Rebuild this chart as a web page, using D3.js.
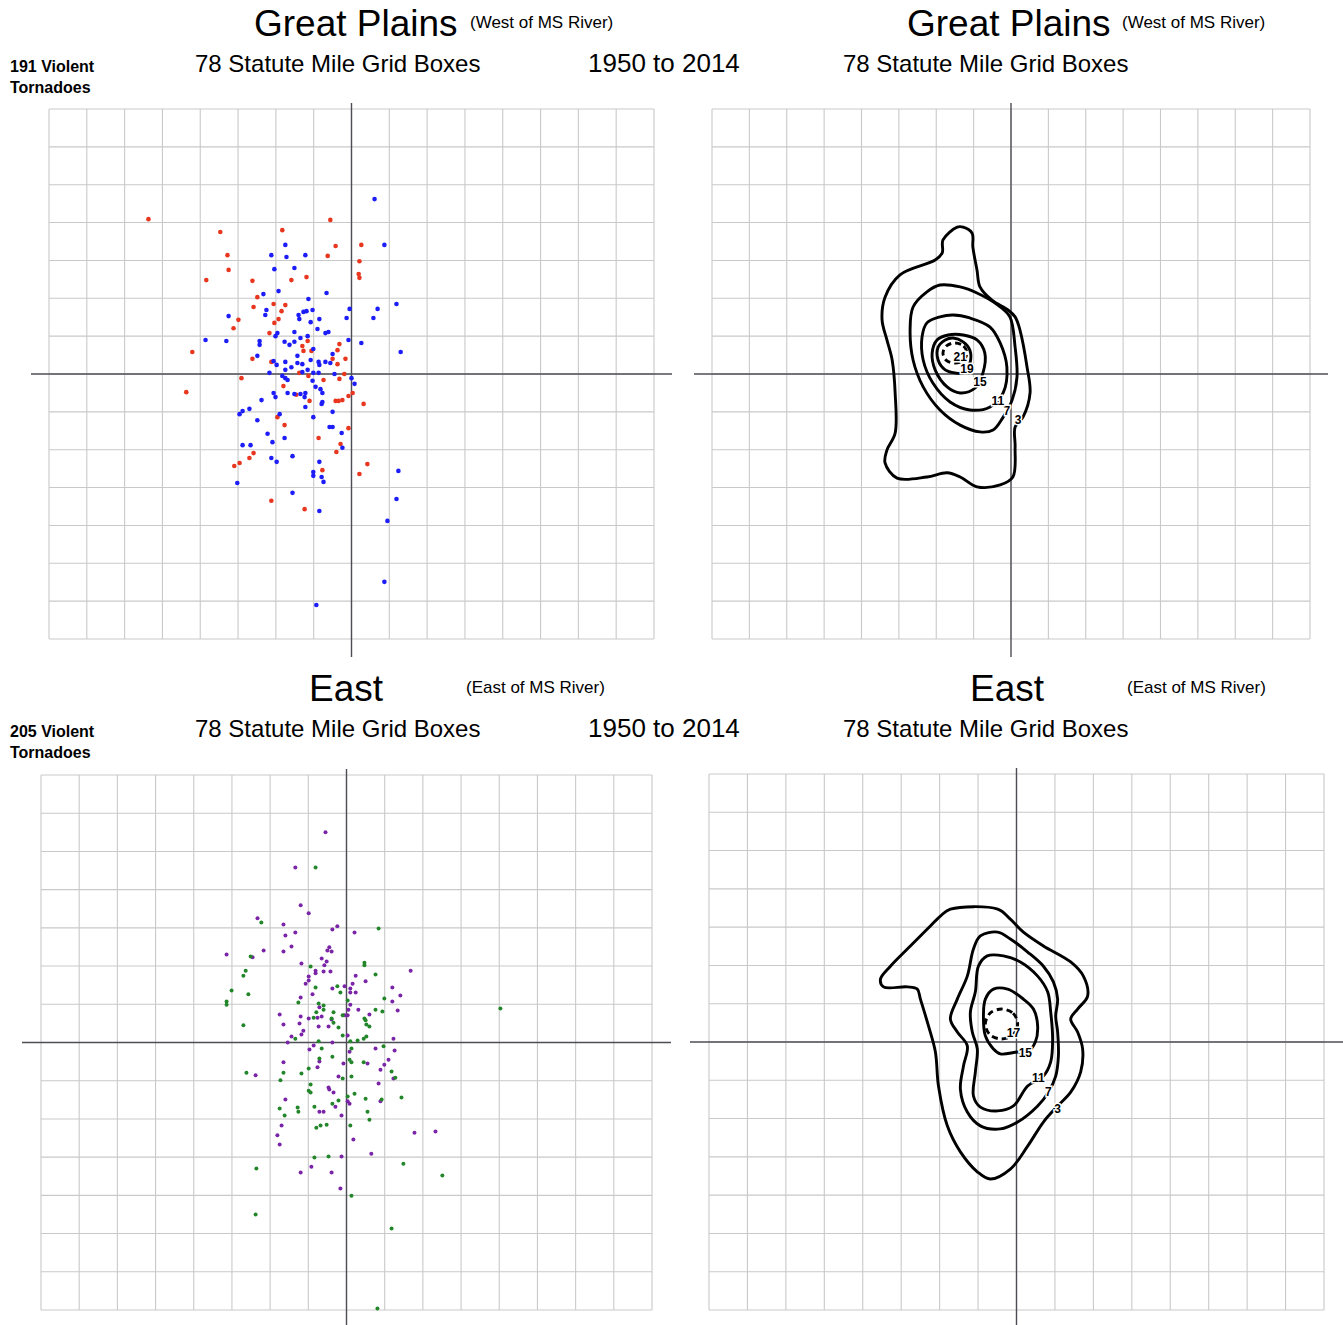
<!DOCTYPE html>
<html>
<head>
<meta charset="utf-8">
<script src="https://cdn.jsdelivr.net/npm/d3@7"></script>
<style>
  body { margin: 0; background: #fff; }
  text { font-family: "Liberation Sans", Arial, sans-serif; fill: #000; }
</style>
</head>
<body>
<div id="chart"></div>
<script>
// all positions are in grid boxes (78 statute miles), origin = tornado centre
const xBoxes = d3.range(-8, 9);
const yBoxes = d3.range(-7, 8);

// Great Plains points (red / blue)
const redPts = [[-5.37,4.09],[-3.47,3.75],[-3.28,3.14],[-3.25,2.75],[-3.84,2.48],[-2.62,2.46],[-2.49,2.03],[-2.59,1.77],
  [-2.06,1.85],[-2.99,1.43],[-1.93,1.45],[-0.56,4.07],[-1.83,3.80],[-0.42,3.38],[0.26,3.41],[-0.63,3.12],[0.21,2.98],
  [-1.59,2.48],[-1.19,2.56],[0.19,2.64],[0.21,2.54],[-1.75,1.82],[-1.85,1.66],[-3.12,1.21],[-2.04,1.35],[-2.17,1.08],
  [-4.21,0.58],[-2.62,0.40],[-2.12,0.32],[-1.38,0.03],[-2.91,-0.11],[-1.80,-0.32],[-4.37,-0.48],[-1.46,-0.55],
  [-1.96,-1.14],[-1.77,-1.35],[-1.16,0.87],[-1.30,0.74],[-1.27,0.61],[-1.06,0.61],[-0.32,0.79],[-0.37,0.63],
  [-0.50,0.40],[-0.16,0.40],[-0.37,0.26],[-1.14,-0.05],[-0.19,0.00],[-0.32,-0.13],[-0.74,-0.16],[0.03,-0.50],
  [-0.08,-0.58],[-1.11,-0.71],[-0.42,-0.71],[-0.34,-0.71],[-0.24,-0.69],[0.32,-0.79],[-0.08,-1.43],[-0.87,-1.69],
  [-0.29,-1.85],[-0.40,-2.06],[-2.59,-2.09],[-2.70,-2.22],[-2.96,-2.35],[-3.10,-2.43],[0.42,-2.38],[0.21,-2.64],
  [-0.77,-2.54],[-2.12,-3.35],[-1.24,-3.57]];
const bluePts = [[-2.12,3.14],[-2.04,2.77],[-1.93,2.19],[-2.33,2.11],[-2.25,1.69],[-2.28,1.56],[-3.25,1.53],[0.61,4.62],
  [-1.75,3.41],[0.87,3.41],[-1.72,3.09],[-1.22,3.14],[-1.51,2.80],[-0.66,2.14],[-1.14,1.98],[-1.27,1.64],[-1.19,1.66],
  [-1.03,1.69],[-1.40,1.56],[-0.05,1.72],[0.69,1.72],[1.19,1.85],[-1.38,1.45],[-0.85,1.45],[-0.13,1.48],[0.58,1.48],
  [-1.96,1.08],[-2.01,1.00],[-3.86,0.90],[-3.31,0.87],[-2.43,0.87],[-2.43,0.77],[-1.77,0.85],[-1.64,0.77],[-1.51,0.85],
  [-2.49,0.48],[-2.06,0.34],[-1.98,0.24],[-1.75,0.32],[-1.43,0.48],[-1.43,0.29],[-1.59,0.18],[-1.75,0.11],[-2.17,0.03],
  [-1.83,-0.05],[-1.75,-0.11],[-1.69,-0.16],[-2.06,-0.50],[-2.01,-0.61],[-1.69,-0.50],[-1.51,-0.53],[-2.38,-0.69],
  [-2.70,-0.92],[-2.88,-0.98],[-2.96,-1.06],[-1.90,-1.06],[-2.49,-1.22],[-0.61,1.11],[-0.90,1.19],[-0.69,1.08],
  [-1.51,1.11],[-1.35,0.95],[-1.16,1.00],[-1.08,1.37],[-1.01,0.66],[-0.08,0.90],[0.26,0.82],[1.30,0.58],[-0.50,0.53],
  [-1.08,0.37],[-0.87,0.32],[-0.69,0.32],[-0.56,0.29],[-1.30,0.26],[-0.85,0.24],[-1.16,0.11],[-1.30,0.05],[-1.01,0.03],
  [-0.87,0.03],[-0.45,0.00],[0.00,-0.11],[-1.03,-0.18],[0.08,-0.26],[-0.95,-0.34],[-0.82,-0.40],[-1.35,-0.53],
  [-1.22,-0.50],[-1.24,-0.61],[-0.77,-0.50],[-0.77,-0.74],[-0.79,-0.79],[-1.22,-0.87],[-0.50,-1.00],[-1.01,-1.14],
  [-0.58,-1.40],[-0.50,-1.40],[-2.22,-1.58],[-0.26,-1.56],[-2.09,-1.80],[-1.77,-1.69],[-2.88,-1.88],[-2.67,-1.88],
  [-0.24,-1.95],[-2.12,-2.22],[-1.98,-2.32],[-1.56,-2.17],[-0.85,-2.32],[1.24,-2.56],[-1.01,-2.59],[-1.01,-2.69],
  [-0.79,-2.72],[-0.74,-2.85],[-3.02,-2.88],[-1.56,-3.14],[-0.85,-3.62],[1.19,-3.30],[0.95,-3.88],[0.87,-5.49],
  [-0.93,-6.10]];

// East points (purple / green)
const purplePts = [[-0.55,5.50],[-1.34,4.58],[-1.20,3.59],[-0.99,3.38],[-2.33,3.25],[-1.65,3.09],[-0.24,3.04],[-0.37,2.96],
  [0.21,2.88],[-1.60,2.80],[-1.34,2.88],[-1.44,2.51],[-2.17,2.41],[-1.65,2.38],[-0.45,2.49],[-0.50,2.41],[-0.39,2.38],
  [-3.14,2.30],[-2.46,2.23],[-0.65,2.20],[-0.52,2.12],[-1.18,2.07],[-0.58,2.02],[-0.81,1.88],[-0.81,1.81],[-0.60,1.86],
  [-0.42,1.86],[1.68,1.88],[-0.99,1.73],[-0.99,1.62],[0.24,1.75],[0.50,1.60],[-1.07,1.54],[0.16,1.54],[-0.05,1.47],
  [-0.37,1.41],[1.20,1.44],[-0.89,1.26],[0.10,1.31],[0.24,1.31],[0.10,1.41],[1.41,1.23],[-1.20,1.18],[1.20,1.07],
  [-0.71,0.92],[0.10,0.99],[0.31,0.86],[1.34,0.84],[-1.75,0.73],[-1.20,0.68],[-0.99,0.63],[-0.76,0.65],[-0.65,0.68],
  [-0.05,0.71],[0.03,0.71],[0.05,0.86],[-1.65,0.47],[-1.23,0.50],[-1.18,0.21],[-1.13,0.31],[-0.39,0.60],[0.60,0.73],
  [-0.73,0.42],[-0.47,0.42],[-1.44,0.16],[-1.54,0.00],[0.03,0.18],[1.23,0.10],[-0.37,0.00],[-0.86,-0.08],[-0.97,-0.18],
  [0.08,-0.24],[0.76,-0.16],[1.26,-0.21],[-0.71,-0.50],[-0.08,-0.55],[0.55,-0.55],[1.10,-0.45],[0.99,-0.58],
  [-1.65,-0.52],[-0.76,-0.65],[0.89,-0.71],[-2.38,-0.86],[-0.21,-0.89],[1.23,-0.94],[-0.47,-1.18],[-0.45,-1.23],
  [-0.34,-1.31],[0.84,-1.07],[-1.60,-1.49],[0.03,-1.54],[0.08,-1.60],[0.89,-1.54],[-0.29,-1.68],[-0.71,-1.81],
  [-0.60,-1.81],[-0.13,-1.91],[-1.70,-2.17],[-1.81,-2.43],[0.18,-2.54],[-1.75,-2.67],[1.78,-2.36],[2.33,-2.33],
  [0.65,-2.91],[-0.13,-2.98],[-0.92,-3.25],[-1.20,-3.40],[-0.39,-3.40],[-0.16,-3.82]];
const greenPts = [[-0.81,4.58],[-2.23,3.14],[0.84,2.98],[-2.51,2.25],[0.47,2.09],[0.47,2.02],[-0.94,1.99],[-2.64,1.88],
  [-2.70,1.75],[0.76,1.78],[-0.81,1.44],[-0.24,1.47],[-3.01,1.36],[-2.57,1.26],[-0.16,1.31],[0.99,1.15],[0.03,1.10],
  [-3.14,1.07],[-3.14,0.99],[-1.26,1.05],[-0.73,1.02],[-0.60,0.97],[-0.60,0.86],[0.76,0.86],[0.94,0.81],[-0.34,0.79],
  [-0.79,0.79],[-0.86,0.65],[-0.10,0.71],[-0.39,0.63],[0.47,0.63],[4.03,0.89],[-0.34,0.52],[0.50,0.58],[0.52,0.47],
  [0.60,0.42],[-2.70,0.45],[-0.21,0.39],[-1.34,0.10],[-0.10,0.18],[0.10,0.03],[0.29,0.05],[0.45,0.10],[0.52,0.16],
  [-0.73,0.03],[-0.65,-0.16],[0.13,-0.16],[0.97,-0.10],[-0.37,-0.37],[-0.71,-0.42],[0.08,-0.45],[0.13,-0.52],
  [0.45,-0.52],[-0.99,-0.68],[1.18,-0.76],[-2.62,-0.79],[-1.65,-0.79],[-1.18,-0.81],[-0.10,-0.94],[0.13,-0.89],
  [1.28,-0.92],[-1.73,-0.99],[-0.94,-1.10],[-0.99,-1.26],[-0.94,-1.31],[0.21,-1.34],[-0.21,-1.52],[0.03,-1.41],
  [0.50,-1.47],[0.92,-1.49],[1.44,-1.44],[-0.37,-1.60],[-0.84,-1.68],[-1.75,-1.73],[-1.28,-1.70],[-1.26,-1.81],
  [-1.62,-1.91],[0.55,-1.81],[0.60,-2.02],[0.10,-2.17],[-0.52,-2.15],[-0.68,-2.17],[-0.79,-2.23],[-0.84,-3.01],
  [-0.47,-2.98],[1.49,-3.17],[-2.36,-3.30],[2.51,-3.48],[0.13,-4.01],[-2.38,-4.50],[1.18,-4.87],[0.81,-6.96]];

// Great Plains density contours
const gpLevels = [3, 7, 11, 15, 19, 21];
const gpRing3 = [[-1.44,3.88],[-1.82,3.54],[-1.84,3.20],[-2.03,3.01],[-2.97,2.62],[-3.37,2.03],[-3.45,1.43],[-3.32,0.90],
  [-3.18,0.37],[-3.10,-0.50],[-3.10,-1.56],[-3.32,-2.01],[-3.37,-2.35],[-3.05,-2.75],[-2.25,-2.72],[-1.71,-2.61],
  [-1.36,-2.72],[-0.91,-2.98],[-0.29,-2.93],[0.05,-2.72],[0.11,-1.93],[0.11,-1.40],[0.32,-1.14],[0.51,-0.50],
  [0.43,0.18],[0.24,1.16],[0.11,1.51],[-0.08,1.69],[-0.51,1.95],[-0.83,2.30],[-0.91,2.75],[-1.02,3.35],[-1.04,3.72],
  [-1.28,3.88]];
const gpRing7 = [[-1.90,2.35],[-2.25,2.17],[-2.62,1.77],[-2.70,1.16],[-2.62,0.37],[-2.35,-0.34],[-1.90,-0.95],[-1.36,-1.35],
  [-0.83,-1.53],[-0.48,-1.48],[-0.21,-1.14],[0.03,-0.69],[0.16,-0.08],[0.11,0.71],[-0.03,1.51],[-0.35,1.82],
  [-0.91,2.14],[-1.36,2.30]];
const gpRing11 = [[-1.90,1.51],[-2.25,1.35],[-2.38,0.98],[-2.35,0.37],[-2.09,-0.24],[-1.63,-0.74],[-1.10,-0.95],
  [-0.56,-0.87],[-0.21,-0.50],[-0.11,0.18],[-0.29,0.82],[-0.56,1.24],[-1.10,1.48],[-1.55,1.56]];
const gpRing15 = [[-1.68,1.03],[-1.98,0.90],[-2.11,0.55],[-2.03,0.11],[-1.71,-0.34],[-1.36,-0.50],[-0.96,-0.37],
  [-0.75,0.03],[-0.70,0.55],[-0.91,0.90],[-1.28,1.03]];
const gpRing19 = [[-1.76,0.90],[-1.95,0.71],[-1.95,0.37],[-1.76,0.11],[-1.50,0.03],[-1.28,0.03],[-1.10,0.29],
  [-1.10,0.63],[-1.28,0.85],[-1.55,0.95]];
const gpRing21 = [[-1.50,0.82],[-1.27,0.74],[-1.18,0.55],[-1.27,0.36],[-1.50,0.29],[-1.73,0.36],[-1.82,0.55],[-1.73,0.74]];
const gpLabelPos = [[0.19,-1.21],[-0.11,-0.98],[-0.35,-0.71],[-0.83,-0.21],[-1.18,0.13],[-1.36,0.45]];

// East density contours
const eastLevels = [3, 7, 11, 15, 17];
const eastRing3 = [[-1.72,3.47],[-0.49,3.47],[-0.16,3.21],[0.18,2.87],[0.70,2.51],[1.41,2.09],[1.74,1.72],[1.85,1.20],
  [1.59,0.86],[1.41,0.60],[1.59,0.26],[1.72,-0.18],[1.67,-0.78],[1.41,-1.31],[1.07,-1.67],[0.70,-2.09],[0.29,-2.72],
  [-0.16,-3.32],[-0.68,-3.58],[-1.02,-3.39],[-1.46,-2.87],[-1.80,-2.19],[-2.03,-1.15],[-2.11,-0.26],[-2.29,0.42],
  [-2.50,1.12],[-2.58,1.38],[-2.84,1.44],[-3.46,1.44],[-3.54,1.64],[-3.28,1.98],[-2.84,2.43],[-2.32,2.95],[-1.98,3.29]];
const eastRing7 = [[-0.94,2.77],[-0.49,2.87],[-0.16,2.69],[0.29,2.35],[0.70,1.98],[0.96,1.57],[1.07,1.12],[1.02,0.68],
  [1.07,0.26],[1.09,-0.37],[1.02,-0.89],[0.83,-1.31],[0.55,-1.67],[0.03,-2.09],[-0.42,-2.27],[-0.94,-2.19],
  [-1.28,-1.83],[-1.46,-1.23],[-1.38,-0.63],[-1.28,-0.10],[-1.54,0.26],[-1.72,0.60],[-1.54,1.12],[-1.28,1.72],
  [-1.12,2.43]];
const eastRing11 = [[-0.76,2.25],[-0.34,2.25],[0.10,2.09],[0.55,1.72],[0.81,1.31],[0.89,0.78],[0.94,0.08],[0.89,-0.52],
  [0.70,-0.89],[0.29,-1.15],[-0.08,-1.67],[-0.49,-1.80],[-0.94,-1.70],[-1.12,-1.41],[-1.07,-0.78],[-1.02,-0.18],
  [-1.15,0.26],[-1.20,0.78],[-1.07,1.31],[-0.99,1.98]];
const eastRing15 = [[-0.60,1.38],[-0.23,1.38],[0.18,1.12],[0.44,0.86],[0.55,0.42],[0.49,0.00],[0.29,-0.26],[0.03,-0.26],
  [-0.42,-0.31],[-0.60,-0.18],[-0.81,0.16],[-0.86,0.68],[-0.81,1.12]];
const eastRing17 = [[-0.39,0.86],[-0.09,0.75],[0.03,0.47],[-0.09,0.19],[-0.39,0.08],[-0.69,0.19],[-0.81,0.47],[-0.69,0.75]];
const eastLabelPos = [[1.07,-1.75],[0.83,-1.31],[0.57,-0.94],[0.23,-0.29],[-0.08,0.23]];

const W = 1343, H = 1325;
const svg = d3.select('#chart').append('svg')
  .attr('width', W).attr('height', H);

// draw one grid panel, returns its scales
function gridPanel(p) {
  const x = d3.scaleLinear().domain([-8, 8]).range([p.x0, p.x1]);
  const y = d3.scaleLinear().domain([-7, 7]).range([p.y1, p.y0]);
  const g = svg.append('g');
  g.selectAll('.vl').data(xBoxes).enter().append('line')
    .attr('x1', d => x(d)).attr('x2', d => x(d))
    .attr('y1', p.y0).attr('y2', p.y1)
    .attr('stroke', '#c9c9c9').attr('stroke-width', 1.1);
  g.selectAll('.hl').data(yBoxes).enter().append('line')
    .attr('y1', d => y(d)).attr('y2', d => y(d))
    .attr('x1', p.x0).attr('x2', p.x1)
    .attr('stroke', '#c9c9c9').attr('stroke-width', 1.1);
  // the two centre axes, a bit longer than the grid
  g.append('line')
    .attr('x1', x(0)).attr('x2', x(0))
    .attr('y1', p.vTop).attr('y2', p.vBot)
    .attr('stroke', '#4d4d55').attr('stroke-width', 1.4);
  g.append('line')
    .attr('y1', y(0)).attr('y2', y(0))
    .attr('x1', p.hLeft).attr('x2', p.hRight)
    .attr('stroke', '#4d4d55').attr('stroke-width', 1.4);
  return {x, y};
}

function dots(sc, pts, color, r) {
  svg.append('g').selectAll('circle').data(pts).enter().append('circle')
    .attr('cx', d => sc.x(d[0])).attr('cy', d => sc.y(d[1]))
    .attr('r', r).attr('fill', color);
}

function contours(sc, rings, levels, labelPos) {
  const line = d3.line().x(d => sc.x(d[0])).y(d => sc.y(d[1]))
    .curve(d3.curveCatmullRomClosed.alpha(0.5));
  const g = svg.append('g');
  rings.forEach((ring, i) => {
    g.append('path').attr('d', line(ring))
      .attr('fill', 'none').attr('stroke', '#000')
      .attr('stroke-width', 2.9)
      .attr('stroke-dasharray', i == rings.length - 1 ? '6,4' : null);
  });
  g.selectAll('text').data(levels).enter().append('text')
    .attr('x', (d, i) => sc.x(labelPos[i][0]))
    .attr('y', (d, i) => sc.y(labelPos[i][1]))
    .attr('dy', '0.35em')
    .attr('text-anchor', 'middle')
    .attr('font-size', '12px').attr('font-weight', 'bold')
    .attr('stroke', '#fff').attr('stroke-width', 3)
    .attr('paint-order', 'stroke')
    .text(d => d);
}

function label(x, y, size, txt, bold) {
  svg.append('text').attr('x', x).attr('y', y)
    .attr('font-size', size + 'px')
    .attr('font-weight', bold ? 'bold' : 'normal')
    .text(txt);
}

// ---- headings
label(254, 36, 37, 'Great Plains');
label(470, 28, 17, '(West of MS River)');
label(907, 36, 37, 'Great Plains');
label(1122, 28, 17, '(West of MS River)');
label(10, 72, 16, '191 Violent', true);
label(10, 93, 16, 'Tornadoes', true);
label(195, 72, 24, '78 Statute Mile Grid Boxes');
label(588, 72, 26, '1950 to 2014');
label(843, 72, 24, '78 Statute Mile Grid Boxes');

label(309, 701, 37, 'East');
label(466, 693, 17, '(East of MS River)');
label(970, 701, 37, 'East');
label(1127, 693, 17, '(East of MS River)');
label(10, 737, 16, '205 Violent', true);
label(10, 758, 16, 'Tornadoes', true);
label(195, 737, 24, '78 Statute Mile Grid Boxes');
label(588, 737, 26, '1950 to 2014');
label(843, 737, 24, '78 Statute Mile Grid Boxes');

// ---- panels
const tl = gridPanel({x0: 49, x1: 654, y0: 109, y1: 639, vTop: 103, vBot: 657, hLeft: 31, hRight: 672});
dots(tl, redPts, '#e8361f', 2.3);
dots(tl, bluePts, '#1d1dfa', 2.3);

const tr = gridPanel({x0: 712, x1: 1310, y0: 109, y1: 639, vTop: 103, vBot: 657, hLeft: 694, hRight: 1328});
contours(tr, [gpRing3, gpRing7, gpRing11, gpRing15, gpRing19, gpRing21], gpLevels, gpLabelPos);

const bl = gridPanel({x0: 41, x1: 652, y0: 775, y1: 1310, vTop: 769, vBot: 1325, hLeft: 22, hRight: 671});
dots(bl, purplePts, '#7a25a8', 2);
dots(bl, greenPts, '#23862a', 2);

const br = gridPanel({x0: 709, x1: 1324, y0: 774, y1: 1310, vTop: 768, vBot: 1325, hLeft: 690, hRight: 1343});
contours(br, [eastRing3, eastRing7, eastRing11, eastRing15, eastRing17], eastLevels, eastLabelPos);
</script>
</body>
</html>
